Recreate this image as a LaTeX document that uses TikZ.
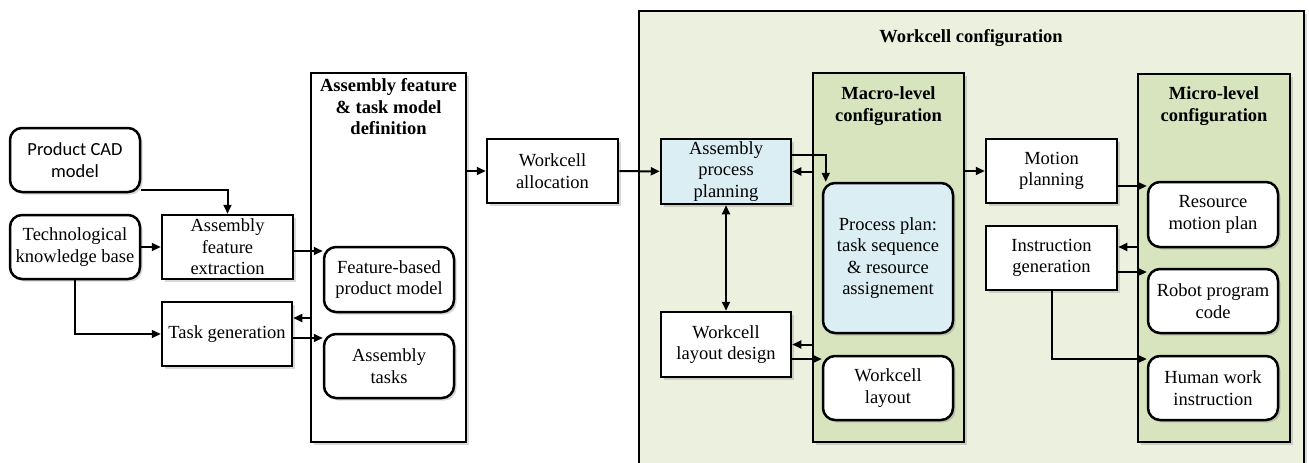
\documentclass[tikz,border=0pt]{standalone}
\usepackage{fontspec}
\setmainfont{Liberation Serif}
\newfontfamily\calfont{Carlito}
\usetikzlibrary{arrows.meta,calc,shadows}
\definecolor{wcgreen}{RGB}{235,241,222}
\definecolor{mgreen}{RGB}{215,228,189}
\definecolor{lblue}{RGB}{219,238,244}
\tikzset{
  shad/.style={drop shadow={shadow xshift=2.5pt,shadow yshift=-2.5pt,opacity=0.3}},
  base/.style={draw, line width=2.5pt, align=center, inner sep=0pt, text=black,
    font=\fontsize{18.5}{21.5}\selectfont, shad},
  sqbox/.style={base, fill=white, minimum width=131, minimum height=64},
  rbox/.style={base, fill=white, rounded corners=12pt, minimum width=130, minimum height=64},
  region/.style={draw, line width=2.5pt, inner sep=0pt, shad},
  titletext/.style={align=center, inner sep=0pt, font=\fontsize{18.5}{21.5}\selectfont\bfseries},
  arr/.style={line width=2pt, -{Triangle[length=9pt,width=8pt]}},
  arrtwo/.style={line width=2pt, {Triangle[length=9pt,width=8pt]}-{Triangle[length=9pt,width=8pt]}},
}
\begin{document}
\begin{tikzpicture}[x=1pt,y=-1pt]
\useasboundingbox (0,0) rectangle (1309,463);
% regions
\node[region, fill=white, minimum width=155, minimum height=369] (amd) at (388.5,257.5) {};
\node[titletext] (amdt) at (388.5,107) {Assembly feature\\ \& task model\\ definition};
\node[region, fill=wcgreen, minimum width=665, minimum height=456] (wc) at (971.5,239) {};
\node[titletext] (wct) at (971,38) {Workcell configuration};
\node[region, fill=mgreen, minimum width=151, minimum height=369] (macro) at (888.5,257.5) {};
\node[titletext] (macrot) at (888.5,106) {Macro-level\\ configuration};
\node[region, fill=mgreen, minimum width=152, minimum height=368] (micro) at (1214,258) {};
\node[titletext] (microt) at (1214,106) {Micro-level\\ configuration};
% left part
\node[rbox, font=\fontsize{18.5}{21.5}\selectfont\calfont] (cad) at (75,160) {Product CAD\\ model};
\node[rbox] (tkb) at (75,247) {Technological\\ knowledge base};
\node[sqbox] (afe) at (227.5,247) {Assembly\\ feature\\ extraction};
\node[sqbox, minimum width=130] (tg) at (227,334) {Task generation};
\node[rbox, minimum height=65] (fbpm) at (389,279.5) {Feature-based\\ product model};
\node[rbox] (at) at (389,366) {Assembly\\ tasks};
\node[sqbox] (wa) at (552.5,171) {Workcell\\ allocation};
% workcell configuration
\node[sqbox, minimum width=130, minimum height=65, fill=lblue] (app) at (726,171.5) {Assembly\\ process\\ planning};
\node[sqbox, minimum width=130, minimum height=65] (wld) at (726,344.5) {Workcell\\ layout design};
\node[rbox, fill=lblue, minimum height=150] (pp) at (888,258) {Process plan:\\ task sequence\\ \& resource\\ assignement};
\node[rbox] (wl) at (888,388) {Workcell\\ layout};
\node[sqbox] (mp) at (1051.5,171) {Motion\\ planning};
\node[sqbox] (ig) at (1051.5,258) {Instruction\\ generation};
\node[rbox, minimum height=65] (rmp) at (1213,214.5) {Resource\\ motion plan};
\node[rbox] (rpc) at (1213,301) {Robot program\\ code};
\node[rbox] (hwi) at (1213,388) {Human work\\ instruction};
% connectors
\draw[arr] ($(cad.south east)+(0,-3)$) -| (afe.north);
\draw[arr] (tkb) -- (afe);
\draw[arr] (tkb.south) |- (tg.west);
\draw[arr] ($(afe.east)+(0,4)$) -- ($(fbpm.west)+(0,-28.5)$);
\path ($(tg.east)+(0,-16)$) coordinate (t1);
\draw[arr] (t1 -| amd.west) -- (t1);
\draw[arr] ($(tg.east)+(0,4)$) -- ($(at.west)+(0,-28)$);
\draw[arr] (amd.east |- wa.west) -- (wa.west);
\draw[arr] (wa) -- (app);
\draw[arr] ($(app.east)+(0,-16.5)$) -| ($(pp.north west)+(4,0)$);
\draw[arr] (macro.west |- app.east) -- (app.east);
\draw[arrtwo] (app) -- (wld);
\draw[arr] (macro.west |- wld.east) -- (wld.east);
\draw[arr] ($(wld.east)+(0,14.5)$) -- ($(wl.west)+(0,-29)$);
\draw[arr] (macro.east |- mp.west) -- (mp.west);
\draw[arr] ($(mp.east)+(0,15)$) -- ($(rmp.west)+(0,-28.5)$);
\path ($(ig.east)+(0,-11)$) coordinate (i1);
\draw[arr] (i1 -| micro.west) -- (i1);
\draw[arr] ($(ig.east)+(0,14)$) -- ($(rpc.west)+(0,-29)$);
\draw[arr] (ig.south) |- ($(hwi.west)+(0,-29)$);
\end{tikzpicture}
\end{document}
